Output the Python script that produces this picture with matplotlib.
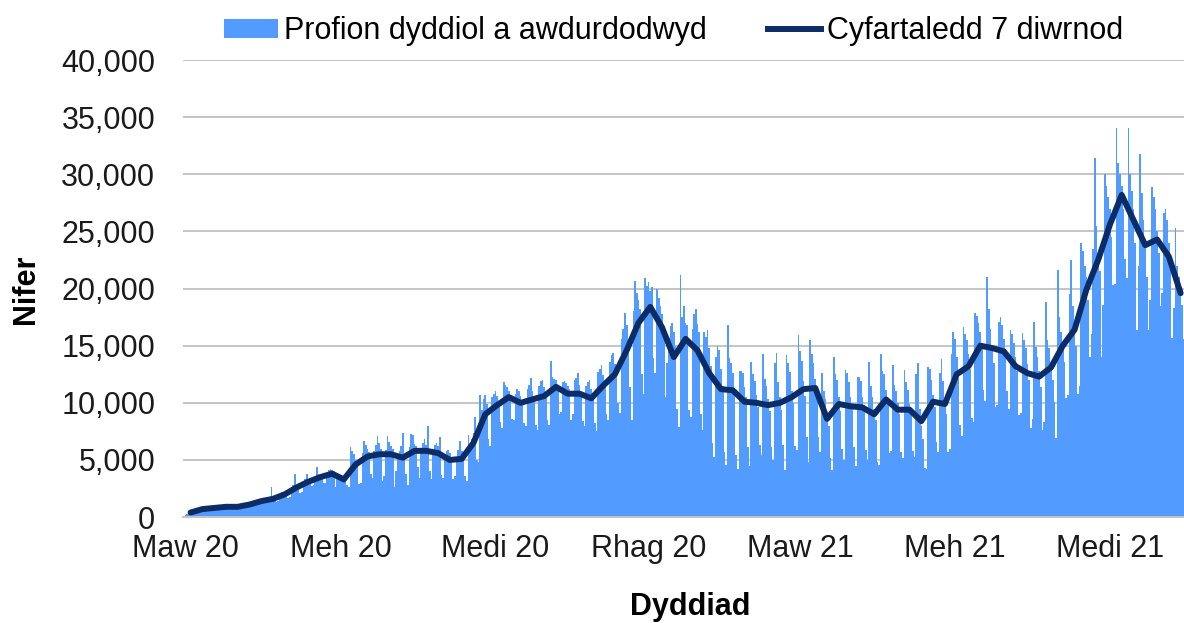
import matplotlib
matplotlib.use("Agg")
import matplotlib.pyplot as plt
from matplotlib.patches import Patch
from matplotlib.lines import Line2D
import pandas as pd

plt.rcParams['font.family'] = ['Liberation Sans', 'DejaVu Sans']

# Daily authorised tests (thousands), one row per week starting 1 Mar 2020
daily_tests_k = [
    0.2, 0.3, 0.4, 0.4, 0.5, 0.4, 0.4,
    0.7, 0.7, 0.8, 0.8, 0.7, 0.6, 0.6,
    0.8, 0.9, 0.9, 0.8, 0.8, 0.7, 0.7,
    0.9, 1.0, 1.0, 0.9, 0.9, 0.8, 0.8,
    0.9, 1.0, 1.0, 1.0, 0.9, 0.8, 0.8,
    1.1, 1.2, 1.2, 1.1, 1.1, 1.0, 1.0,
    1.4, 1.5, 1.5, 1.5, 1.4, 1.2, 1.3,
    1.6, 1.7, 2.6, 1.7, 1.6, 1.3, 1.4,
    2.0, 2.2, 2.2, 2.1, 2.1, 1.7, 1.8,
    2.6, 2.8, 3.8, 2.8, 2.7, 2.1, 2.2,
    3.1, 3.3, 3.8, 3.3, 3.2, 2.7, 2.8,
    3.5, 4.4, 3.8, 3.7, 3.6, 3.0, 3.0,
    3.9, 4.1, 4.2, 4.1, 4.0, 2.6, 3.5,
    3.4, 3.5, 3.4, 3.3, 3.4, 2.8, 2.6,
    6.1, 5.8, 5.5, 5.0, 4.8, 2.9, 3.0,
    5.6, 6.7, 6.3, 6.0, 5.7, 3.8, 3.4,
    5.8, 6.3, 7.1, 6.5, 6.0, 3.2, 3.6,
    5.9, 7.1, 6.6, 6.2, 6.0, 2.6, 4.0,
    5.2, 5.8, 6.2, 7.4, 5.3, 3.8, 2.8,
    6.1, 7.3, 7.2, 6.4, 6.2, 4.4, 3.4,
    6.0, 6.5, 6.8, 6.3, 8.0, 4.0, 3.3,
    6.0, 6.3, 6.5, 6.2, 7.0, 3.7, 3.4,
    5.3, 5.8, 5.9, 5.6, 5.3, 3.3, 3.6,
    5.3, 5.9, 6.7, 5.8, 5.5, 3.6, 3.2,
    7.2, 6.3, 6.8, 7.4, 8.8, 5.0, 4.8,
    10.7, 9.4, 10.3, 10.7, 9.9, 6.8, 6.2,
    10.5, 10.8, 11.0, 10.6, 10.2, 8.3, 7.8,
    11.8, 11.6, 11.4, 11.0, 10.6, 8.6, 8.5,
    10.8, 11.2, 11.0, 10.6, 10.2, 8.2, 8.0,
    11.2, 11.6, 12.2, 11.0, 10.4, 8.1, 7.6,
    11.5, 11.9, 12.0, 11.4, 10.8, 8.5, 8.1,
    13.7, 12.3, 12.1, 12.0, 11.5, 9.0, 9.2,
    11.8, 11.9, 11.7, 11.5, 11.2, 8.5, 9.0,
    12.0, 12.2, 12.6, 11.6, 10.9, 8.4, 8.0,
    11.5, 11.8, 12.0, 11.2, 10.6, 8.2, 7.5,
    12.7, 13.0, 13.3, 12.4, 11.6, 9.0, 8.5,
    13.6, 14.2, 14.4, 13.4, 12.8, 10.0, 9.1,
    15.6, 16.5, 17.9, 16.8, 15.6, 11.4, 8.5,
    18.0, 20.7, 19.6, 19.0, 18.2, 12.5, 10.8,
    20.9, 20.2, 20.6, 19.8, 20.1, 13.9, 12.6,
    20.0, 19.2, 18.5, 17.8, 16.7, 10.5, 13.5,
    15.7, 16.7, 17.0, 16.2, 15.0, 9.5, 7.9,
    21.2, 17.5, 18.5, 17.0, 16.8, 9.4, 8.8,
    16.5, 17.8, 18.2, 16.9, 16.2, 9.0, 7.6,
    16.2, 15.8, 16.4, 14.8, 13.2, 6.5, 5.3,
    14.0, 15.0, 14.6, 13.0, 11.5, 5.7, 4.6,
    16.8, 13.9, 13.5, 12.6, 11.3, 5.4, 4.2,
    12.8, 12.8, 12.6, 11.4, 10.5, 6.1, 4.5,
    13.6, 12.5, 11.9, 10.7, 9.6, 6.3, 5.4,
    14.3, 12.1, 11.5, 10.3, 9.3, 6.1, 5.0,
    13.5, 14.4, 11.8, 10.5, 9.4, 6.3, 4.1,
    14.2, 13.5, 12.7, 11.0, 10.0, 6.2, 5.9,
    15.9, 14.5, 13.7, 11.9, 10.6, 7.0, 4.8,
    15.5, 14.3, 13.5, 12.1, 11.0, 7.0, 5.7,
    12.6, 11.0, 10.3, 9.0, 8.0, 5.2, 4.1,
    14.0, 12.5, 12.0, 10.5, 9.3, 6.0, 5.0,
    12.9, 12.6, 11.8, 10.5, 9.5, 6.1, 4.5,
    12.3, 12.3, 11.9, 10.5, 9.3, 5.9, 5.0,
    13.6, 11.5, 10.5, 9.5, 8.5, 4.8, 4.6,
    14.3, 12.8, 12.5, 11.1, 10.0, 5.6, 5.8,
    13.3, 11.6, 11.0, 10.0, 9.0, 5.7, 5.2,
    12.9, 11.8, 11.1, 9.9, 9.0, 5.8, 5.3,
    12.5, 13.5, 9.5, 8.0, 6.8, 4.3, 4.2,
    13.1, 13.0, 12.0, 10.7, 9.6, 6.6, 5.7,
    12.6, 13.8, 11.9, 10.3, 9.0, 5.7, 6.0,
    14.3, 16.2, 15.6, 14.0, 12.2, 8.1, 7.1,
    16.6, 16.0, 15.5, 14.3, 13.0, 8.7, 8.3,
    17.9, 17.6, 17.0, 16.2, 15.0, 11.1, 10.2,
    21.0, 18.2, 16.5, 15.0, 13.5, 9.6, 9.8,
    17.1, 17.5, 16.8, 15.6, 14.0, 11.0, 9.5,
    16.4, 16.0, 15.2, 14.0, 12.8, 8.9, 9.1,
    16.1, 15.5, 14.8, 13.4, 12.0, 7.8, 8.6,
    17.1, 14.9, 14.0, 12.8, 11.4, 7.6, 8.3,
    18.8, 15.5, 14.8, 13.6, 12.0, 10.1, 6.9,
    21.6, 17.5, 16.2, 15.0, 13.6, 10.4, 10.7,
    19.5, 22.5, 18.5, 17.0, 15.0, 10.8, 11.5,
    24.0, 23.3, 22.0, 21.0, 19.0, 14.0, 16.0,
    23.5, 31.4, 25.5, 23.0, 21.5, 14.0, 18.6,
    30.0, 29.0, 28.0, 27.0, 24.5, 20.3, 20.4,
    34.1, 31.0, 30.0, 29.0, 27.0, 22.6, 20.9,
    34.1, 30.0, 28.5, 27.0, 24.0, 16.4, 22.0,
    31.8, 28.4, 26.0, 24.0, 21.0, 16.4, 19.0,
    28.9, 28.0, 27.0, 25.0, 23.1, 18.5, 19.6,
    26.6, 27.0, 26.0, 24.0, 22.0, 15.7, 18.3,
    25.3, 22.0, 21.0, 20.0, 18.6, 15.6, 14.7,
]

# 7-day average (thousands), read at mid-week points
avg7_k = [
    0.4, 0.7, 0.8, 0.9, 0.9, 1.1, 1.4, 1.6, 2.0, 2.6,
    3.1, 3.5, 3.8, 3.3, 4.6, 5.3, 5.5, 5.5, 5.2, 5.8,
    5.8, 5.6, 5.0, 5.1, 6.5, 9.0, 9.8, 10.5, 10.0, 10.3,
    10.6, 11.4, 10.8, 10.8, 10.4, 11.5, 12.5, 14.6, 17.0, 18.4,
    16.6, 14.0, 15.6, 14.6, 12.6, 11.2, 11.1, 10.1, 10.0, 9.8,
    10.0, 10.5, 11.2, 11.3, 8.6, 9.9, 9.7, 9.6, 9.0, 10.3,
    9.4, 9.4, 8.4, 10.1, 9.9, 12.5, 13.2, 15.0, 14.8, 14.5,
    13.2, 12.6, 12.3, 13.1, 15.0, 16.4, 19.9, 22.5, 25.6, 28.2,
    26.0, 23.8, 24.3, 22.8, 19.6,
]

tick_dates = ['2020-03-01', '2020-06-01', '2020-09-01', '2020-12-01',
              '2021-03-01', '2021-06-01', '2021-09-01']
tick_labels = ['Maw 20', 'Meh 20', 'Medi 20', 'Rhag 20',
               'Maw 21', 'Meh 21', 'Medi 21']
y_ticks = [0, 5000, 10000, 15000, 20000, 25000, 30000, 35000, 40000]

bar_label = 'Profion dyddiol a awdurdodwyd'
line_label = 'Cyfartaledd 7 diwrnod'

BAR_COLOR = '#529CFF'
LINE_COLOR = '#0B2C66'
FS = 22

days = pd.date_range('2020-03-01', periods=len(daily_tests_k), freq='D')
week_mid = pd.date_range('2020-03-04', periods=len(avg7_k), freq='7D')
daily_vals = [v * 1000 for v in daily_tests_k]
avg_vals = [v * 1000 for v in avg7_k]

fig = plt.figure(figsize=(11.84, 6.23), dpi=100)
ax = fig.add_axes([0.1546, 0.170, 0.8454, 0.7335])

ax.bar(days, daily_vals, width=1.0, color=BAR_COLOR, linewidth=0, zorder=2)
ax.plot(week_mid, avg_vals, color=LINE_COLOR, linewidth=4.3, zorder=3,
        solid_joinstyle='round', solid_capstyle='round')

ax.set_ylim(0, 40000)
ax.set_xlim(pd.Timestamp('2020-02-28 12:00'), pd.Timestamp('2021-10-15'))
ax.set_yticks(y_ticks)
ax.set_yticklabels([f'{v:,}' for v in y_ticks])
ax.set_xticks([pd.Timestamp(d) for d in tick_dates])
ax.set_xticklabels(tick_labels)

ax.grid(axis='y', color='#C4C4C4', linewidth=1.4, zorder=0)
ax.set_axisbelow(True)
for s in ['top', 'right', 'left']:
    ax.spines[s].set_visible(False)
ax.spines['bottom'].set_color('#C4C4C4')
ax.spines['bottom'].set_linewidth(1.4)
ax.tick_params(axis='both', length=0, labelsize=FS, colors='#1A1A1A')
ax.tick_params(axis='y', pad=20)
ax.tick_params(axis='x', pad=12)

fig.text(0.022, 0.535, 'Nifer', rotation=90, fontsize=FS, fontweight='bold',
         ha='center', va='center')
fig.text(0.583, 0.026, 'Dyddiad', fontsize=FS, fontweight='bold',
         ha='center', va='center')

handles = [Patch(facecolor=BAR_COLOR, edgecolor='none', label=bar_label),
           Line2D([0], [0], color=LINE_COLOR, linewidth=4.3, label=line_label)]
fig.legend(handles=handles, loc='center', bbox_to_anchor=(0.569, 0.95),
           ncol=2, frameon=False, fontsize=FS, handlelength=1.75,
           handleheight=0.6, handletextpad=0.2, columnspacing=2.0)

fig.savefig('out.png', dpi=100)
